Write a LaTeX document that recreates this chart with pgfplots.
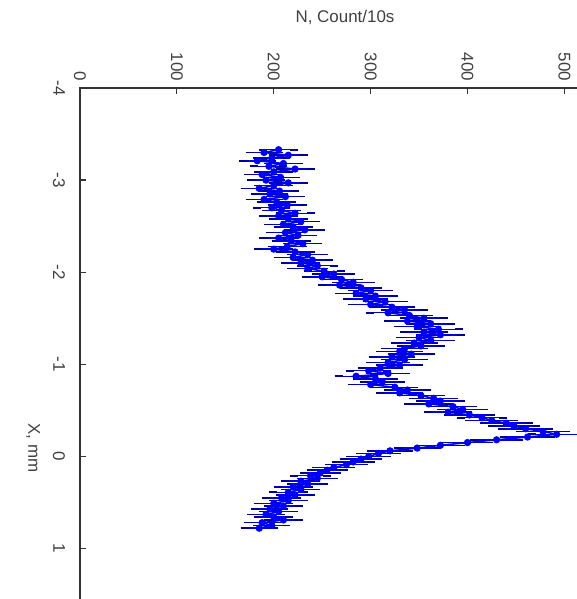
\documentclass[border=0pt]{standalone}
\usepackage{fontspec}
\setmainfont{Liberation Sans}
\usepackage{pgfplots}
\usepackage{pgfplotstable}
\pgfplotsset{compat=1.18}
\pgfplotstableread{
X N e
-3.33 205 16
-3.30 190 15
-3.27 215 16
-3.24 198 15
-3.21 183 15
-3.18 210 16
-3.15 195 15
-3.12 222 16
-3.09 200 16
-3.06 188 15
-3.03 207 16
-3.00 192 15
-2.97 215 16
-2.94 200 16
-2.91 185 15
-2.88 206 16
-2.85 196 15
-2.82 212 16
-2.79 190 15
-2.76 203 16
-2.73 214 16
-2.70 198 15
-2.67 208 16
-2.64 222 16
-2.61 205 16
-2.58 215 16
-2.55 228 16
-2.52 210 16
-2.49 220 16
-2.46 232 17
-2.43 212 16
-2.40 225 16
-2.37 205 16
-2.34 218 16
-2.31 230 16
-2.28 214 16
-2.25 200 16
-2.22 222 16
-2.19 235 17
-2.16 220 16
-2.13 240 17
-2.10 228 16
-2.07 245 17
-2.04 235 17
-2.01 252 17
-1.98 262 18
-1.95 250 17
-1.92 270 18
-1.89 282 18
-1.86 268 18
-1.83 290 18
-1.80 300 19
-1.77 285 18
-1.74 305 19
-1.71 295 19
-1.68 315 19
-1.65 300 19
-1.62 322 20
-1.59 335 20
-1.56 318 19
-1.53 340 20
-1.50 355 21
-1.47 338 20
-1.44 362 21
-1.41 348 20
-1.38 370 21
-1.35 355 21
-1.32 372 21
-1.29 350 20
-1.26 362 21
-1.23 345 20
-1.20 352 21
-1.17 335 20
-1.14 330 20
-1.11 342 20
-1.08 322 20
-1.05 335 20
-1.02 318 19
-0.99 330 20
-0.96 310 19
-0.93 298 19
-0.90 318 19
-0.87 285 18
-0.84 305 19
-0.81 312 19
-0.78 300 19
-0.75 325 20
-0.72 338 20
-0.69 330 20
-0.66 352 21
-0.63 365 21
-0.60 372 21
-0.57 360 21
-0.54 385 21
-0.51 395 22
-0.48 380 21
-0.45 402 22
-0.42 415 22
-0.39 425 23
-0.36 440 23
-0.33 448 23
-0.30 460 24
-0.27 478 24
-0.24 492 25
-0.21 462 24
-0.18 430 23
-0.15 400 22
-0.12 372 21
-0.09 348 20
-0.06 320 20
-0.03 308 19
0.00 298 19
0.03 290 18
0.06 282 18
0.09 275 18
0.12 262 18
0.15 255 17
0.18 248 17
0.21 238 17
0.24 245 17
0.27 228 16
0.30 235 17
0.33 220 16
0.36 228 16
0.39 215 16
0.42 222 16
0.45 208 16
0.48 215 16
0.51 200 16
0.54 210 16
0.57 196 15
0.60 205 16
0.63 192 15
0.66 200 16
0.69 210 16
0.72 188 15
0.75 198 15
0.78 185 15
}\datatable
\begin{document}
\begin{tikzpicture}
\useasboundingbox (-40bp,44bp) rectangle (248.5bp,-255.5bp);
\begin{axis}[
  at={(0,0)}, anchor=north west,
  scale only axis, width=256bp, height=262bp,
  xmin=0, xmax=528.5, ymin=-4, ymax=1.69,
  y dir=reverse,
  xtick={0,100,...,500}, ytick={-4,-3,...,1},
  xtick pos=upper, xticklabel pos=upper,
  ytick pos=left, yticklabel pos=left,
  tick align=inside, major tick length=3bp,
  yticklabel shift=4bp,
  /pgf/number format/assume math mode=true,
  tick label style={font=\fontsize{8.5}{9}\selectfont, text=black!75},
  xticklabel style={rotate=-90, anchor=east},
  yticklabel style={rotate=-90, anchor=north},
  axis line style={black!80, line width=0.6bp},
  tick style={black!80, line width=0.6bp},
]
\addplot[blue, line width=0.8bp, mark=*, mark size=1.4bp,
  error bars/.cd, x dir=both, x explicit,
  error bar style={blue!85!black, line width=0.75bp},
  error mark options={mark size=2bp, blue!60!black, line width=0.8bp}]
  table[x=N, y=X, x error=e] {\datatable};
\end{axis}
\node[font=\fontsize{8.5}{10}\selectfont, text=black!75] at (132.5bp,35.5bp) {N, Count/10s};
\node[font=\fontsize{8.5}{10}\selectfont, text=black!75, rotate=-90] at (-23.5bp,-180bp) {X, mm};
\end{tikzpicture}
\end{document}
